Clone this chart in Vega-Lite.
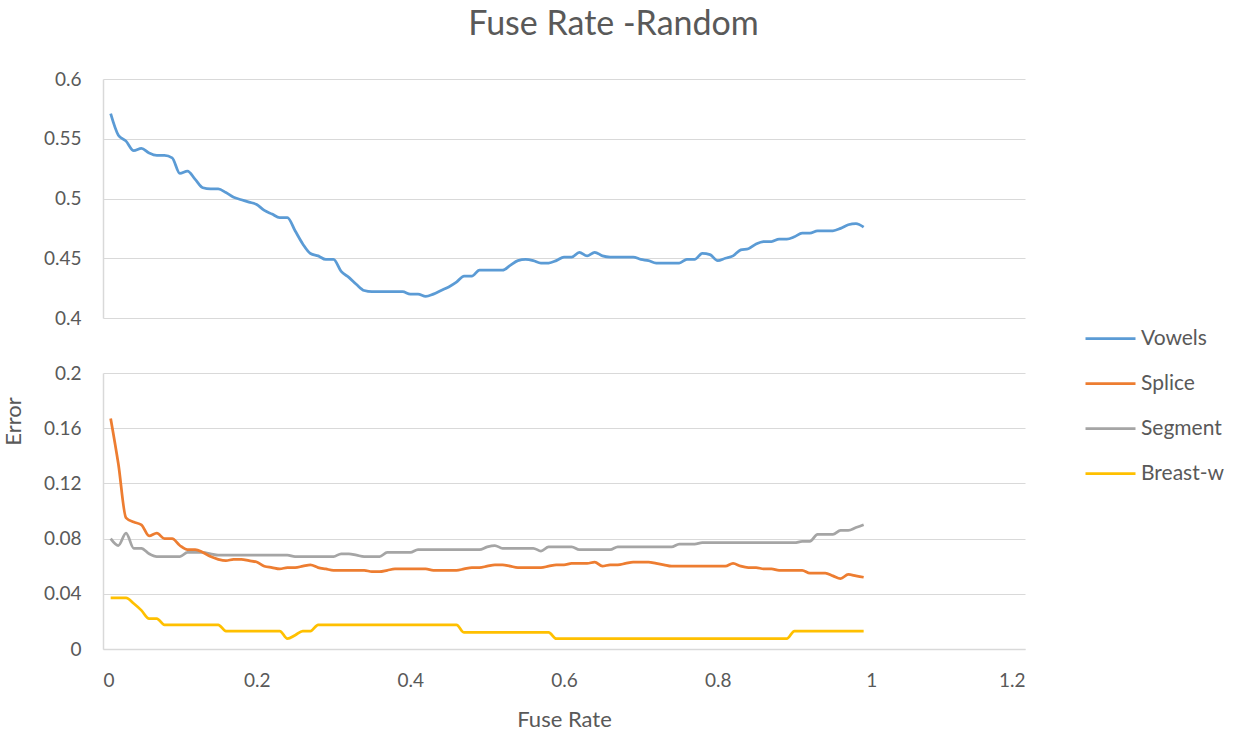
{
  "$schema": "https://vega.github.io/schema/vega-lite/v6.json",
  "background": "white",
  "padding": {"left": 2, "top": 8, "right": 0, "bottom": 0},
  "title": {"text": "Fuse Rate -Random", "font": "Lato", "fontSize": 34, "fontWeight": "normal", "color": "#595959", "anchor": "middle", "offset": 28},
  "config": {
    "view": {"stroke": null},
    "axis": {"labelFont": "Lato", "labelFontSize": 19, "labelColor": "#595959", "titleFont": "Lato", "titleFontSize": 22, "titleFontWeight": "normal", "titleColor": "#595959", "domainColor": "#d9d9d9", "gridColor": "#d9d9d9", "gridWidth": 1.2, "domainWidth": 1.5, "ticks": false},
    "legend": {"labelFont": "Lato", "labelFontSize": 21, "labelColor": "#595959"}
  },
  "datasets": {
    "rates": [
      {"x":0.01,"Vowels":0.571,"Splice":0.167,"Segment":0.080,"Breast-w":0.037},
      {"x":0.02,"Vowels":0.553,"Splice":0.134,"Segment":0.075,"Breast-w":0.037},
      {"x":0.03,"Vowels":0.548,"Splice":0.095,"Segment":0.084,"Breast-w":0.037},
      {"x":0.04,"Vowels":0.540,"Splice":0.092,"Segment":0.073,"Breast-w":0.033},
      {"x":0.05,"Vowels":0.542,"Splice":0.090,"Segment":0.073,"Breast-w":0.028},
      {"x":0.06,"Vowels":0.538,"Splice":0.082,"Segment":0.069,"Breast-w":0.022},
      {"x":0.07,"Vowels":0.536,"Splice":0.084,"Segment":0.067,"Breast-w":0.022},
      {"x":0.08,"Vowels":0.536,"Splice":0.080,"Segment":0.067,"Breast-w":0.0175},
      {"x":0.09,"Vowels":0.534,"Splice":0.080,"Segment":0.067,"Breast-w":0.0175},
      {"x":0.10,"Vowels":0.521,"Splice":0.075,"Segment":0.067,"Breast-w":0.0175},
      {"x":0.11,"Vowels":0.523,"Splice":0.072,"Segment":0.070,"Breast-w":0.0175},
      {"x":0.12,"Vowels":0.516,"Splice":0.072,"Segment":0.070,"Breast-w":0.0175},
      {"x":0.13,"Vowels":0.509,"Splice":0.070,"Segment":0.070,"Breast-w":0.0175},
      {"x":0.14,"Vowels":0.508,"Splice":0.067,"Segment":0.069,"Breast-w":0.0175},
      {"x":0.15,"Vowels":0.508,"Splice":0.065,"Segment":0.068,"Breast-w":0.0175},
      {"x":0.16,"Vowels":0.505,"Splice":0.064,"Segment":0.068,"Breast-w":0.013},
      {"x":0.17,"Vowels":0.501,"Splice":0.065,"Segment":0.068,"Breast-w":0.013},
      {"x":0.18,"Vowels":0.499,"Splice":0.065,"Segment":0.068,"Breast-w":0.013},
      {"x":0.19,"Vowels":0.497,"Splice":0.064,"Segment":0.068,"Breast-w":0.013},
      {"x":0.20,"Vowels":0.495,"Splice":0.063,"Segment":0.068,"Breast-w":0.013},
      {"x":0.21,"Vowels":0.490,"Splice":0.060,"Segment":0.068,"Breast-w":0.013},
      {"x":0.22,"Vowels":0.487,"Splice":0.059,"Segment":0.068,"Breast-w":0.013},
      {"x":0.23,"Vowels":0.484,"Splice":0.058,"Segment":0.068,"Breast-w":0.013},
      {"x":0.24,"Vowels":0.484,"Splice":0.059,"Segment":0.068,"Breast-w":0.0075},
      {"x":0.25,"Vowels":0.473,"Splice":0.059,"Segment":0.067,"Breast-w":0.010},
      {"x":0.26,"Vowels":0.462,"Splice":0.060,"Segment":0.067,"Breast-w":0.013},
      {"x":0.27,"Vowels":0.454,"Splice":0.061,"Segment":0.067,"Breast-w":0.013},
      {"x":0.28,"Vowels":0.452,"Splice":0.059,"Segment":0.067,"Breast-w":0.0175},
      {"x":0.29,"Vowels":0.449,"Splice":0.058,"Segment":0.067,"Breast-w":0.0175},
      {"x":0.30,"Vowels":0.449,"Splice":0.057,"Segment":0.067,"Breast-w":0.0175},
      {"x":0.31,"Vowels":0.439,"Splice":0.057,"Segment":0.069,"Breast-w":0.0175},
      {"x":0.32,"Vowels":0.434,"Splice":0.057,"Segment":0.069,"Breast-w":0.0175},
      {"x":0.33,"Vowels":0.428,"Splice":0.057,"Segment":0.068,"Breast-w":0.0175},
      {"x":0.34,"Vowels":0.423,"Splice":0.057,"Segment":0.067,"Breast-w":0.0175},
      {"x":0.35,"Vowels":0.422,"Splice":0.056,"Segment":0.067,"Breast-w":0.0175},
      {"x":0.36,"Vowels":0.422,"Splice":0.056,"Segment":0.067,"Breast-w":0.0175},
      {"x":0.37,"Vowels":0.422,"Splice":0.057,"Segment":0.070,"Breast-w":0.0175},
      {"x":0.38,"Vowels":0.422,"Splice":0.058,"Segment":0.070,"Breast-w":0.0175},
      {"x":0.39,"Vowels":0.422,"Splice":0.058,"Segment":0.070,"Breast-w":0.0175},
      {"x":0.40,"Vowels":0.420,"Splice":0.058,"Segment":0.070,"Breast-w":0.0175},
      {"x":0.41,"Vowels":0.420,"Splice":0.058,"Segment":0.072,"Breast-w":0.0175},
      {"x":0.42,"Vowels":0.418,"Splice":0.058,"Segment":0.072,"Breast-w":0.0175},
      {"x":0.43,"Vowels":0.420,"Splice":0.057,"Segment":0.072,"Breast-w":0.0175},
      {"x":0.44,"Vowels":0.423,"Splice":0.057,"Segment":0.072,"Breast-w":0.0175},
      {"x":0.45,"Vowels":0.426,"Splice":0.057,"Segment":0.072,"Breast-w":0.0175},
      {"x":0.46,"Vowels":0.430,"Splice":0.057,"Segment":0.072,"Breast-w":0.0175},
      {"x":0.47,"Vowels":0.435,"Splice":0.058,"Segment":0.072,"Breast-w":0.012},
      {"x":0.48,"Vowels":0.435,"Splice":0.059,"Segment":0.072,"Breast-w":0.012},
      {"x":0.49,"Vowels":0.440,"Splice":0.059,"Segment":0.072,"Breast-w":0.012},
      {"x":0.50,"Vowels":0.440,"Splice":0.060,"Segment":0.074,"Breast-w":0.012},
      {"x":0.51,"Vowels":0.440,"Splice":0.061,"Segment":0.075,"Breast-w":0.012},
      {"x":0.52,"Vowels":0.440,"Splice":0.061,"Segment":0.073,"Breast-w":0.012},
      {"x":0.53,"Vowels":0.444,"Splice":0.060,"Segment":0.073,"Breast-w":0.012},
      {"x":0.54,"Vowels":0.448,"Splice":0.059,"Segment":0.073,"Breast-w":0.012},
      {"x":0.55,"Vowels":0.449,"Splice":0.059,"Segment":0.073,"Breast-w":0.012},
      {"x":0.56,"Vowels":0.448,"Splice":0.059,"Segment":0.073,"Breast-w":0.012},
      {"x":0.57,"Vowels":0.446,"Splice":0.059,"Segment":0.071,"Breast-w":0.012},
      {"x":0.58,"Vowels":0.446,"Splice":0.060,"Segment":0.074,"Breast-w":0.012},
      {"x":0.59,"Vowels":0.448,"Splice":0.061,"Segment":0.074,"Breast-w":0.0075},
      {"x":0.60,"Vowels":0.451,"Splice":0.061,"Segment":0.074,"Breast-w":0.0075},
      {"x":0.61,"Vowels":0.451,"Splice":0.062,"Segment":0.074,"Breast-w":0.0075},
      {"x":0.62,"Vowels":0.455,"Splice":0.062,"Segment":0.072,"Breast-w":0.0075},
      {"x":0.63,"Vowels":0.452,"Splice":0.062,"Segment":0.072,"Breast-w":0.0075},
      {"x":0.64,"Vowels":0.455,"Splice":0.063,"Segment":0.072,"Breast-w":0.0075},
      {"x":0.65,"Vowels":0.452,"Splice":0.060,"Segment":0.072,"Breast-w":0.0075},
      {"x":0.66,"Vowels":0.451,"Splice":0.061,"Segment":0.072,"Breast-w":0.0075},
      {"x":0.67,"Vowels":0.451,"Splice":0.061,"Segment":0.074,"Breast-w":0.0075},
      {"x":0.68,"Vowels":0.451,"Splice":0.062,"Segment":0.074,"Breast-w":0.0075},
      {"x":0.69,"Vowels":0.451,"Splice":0.063,"Segment":0.074,"Breast-w":0.0075},
      {"x":0.70,"Vowels":0.449,"Splice":0.063,"Segment":0.074,"Breast-w":0.0075},
      {"x":0.71,"Vowels":0.448,"Splice":0.063,"Segment":0.074,"Breast-w":0.0075},
      {"x":0.72,"Vowels":0.446,"Splice":0.062,"Segment":0.074,"Breast-w":0.0075},
      {"x":0.73,"Vowels":0.446,"Splice":0.061,"Segment":0.074,"Breast-w":0.0075},
      {"x":0.74,"Vowels":0.446,"Splice":0.060,"Segment":0.074,"Breast-w":0.0075},
      {"x":0.75,"Vowels":0.446,"Splice":0.060,"Segment":0.076,"Breast-w":0.0075},
      {"x":0.76,"Vowels":0.449,"Splice":0.060,"Segment":0.076,"Breast-w":0.0075},
      {"x":0.77,"Vowels":0.449,"Splice":0.060,"Segment":0.076,"Breast-w":0.0075},
      {"x":0.78,"Vowels":0.454,"Splice":0.060,"Segment":0.077,"Breast-w":0.0075},
      {"x":0.79,"Vowels":0.453,"Splice":0.060,"Segment":0.077,"Breast-w":0.0075},
      {"x":0.80,"Vowels":0.448,"Splice":0.060,"Segment":0.077,"Breast-w":0.0075},
      {"x":0.81,"Vowels":0.450,"Splice":0.060,"Segment":0.077,"Breast-w":0.0075},
      {"x":0.82,"Vowels":0.452,"Splice":0.062,"Segment":0.077,"Breast-w":0.0075},
      {"x":0.83,"Vowels":0.457,"Splice":0.060,"Segment":0.077,"Breast-w":0.0075},
      {"x":0.84,"Vowels":0.458,"Splice":0.059,"Segment":0.077,"Breast-w":0.0075},
      {"x":0.85,"Vowels":0.462,"Splice":0.059,"Segment":0.077,"Breast-w":0.0075},
      {"x":0.86,"Vowels":0.464,"Splice":0.058,"Segment":0.077,"Breast-w":0.0075},
      {"x":0.87,"Vowels":0.464,"Splice":0.058,"Segment":0.077,"Breast-w":0.0075},
      {"x":0.88,"Vowels":0.466,"Splice":0.057,"Segment":0.077,"Breast-w":0.0075},
      {"x":0.89,"Vowels":0.466,"Splice":0.057,"Segment":0.077,"Breast-w":0.0075},
      {"x":0.90,"Vowels":0.468,"Splice":0.057,"Segment":0.077,"Breast-w":0.013},
      {"x":0.91,"Vowels":0.471,"Splice":0.057,"Segment":0.078,"Breast-w":0.013},
      {"x":0.92,"Vowels":0.471,"Splice":0.055,"Segment":0.078,"Breast-w":0.013},
      {"x":0.93,"Vowels":0.473,"Splice":0.055,"Segment":0.083,"Breast-w":0.013},
      {"x":0.94,"Vowels":0.473,"Splice":0.055,"Segment":0.083,"Breast-w":0.013},
      {"x":0.95,"Vowels":0.473,"Splice":0.053,"Segment":0.083,"Breast-w":0.013},
      {"x":0.96,"Vowels":0.475,"Splice":0.051,"Segment":0.086,"Breast-w":0.013},
      {"x":0.97,"Vowels":0.478,"Splice":0.054,"Segment":0.086,"Breast-w":0.013},
      {"x":0.98,"Vowels":0.479,"Splice":0.053,"Segment":0.088,"Breast-w":0.013},
      {"x":0.99,"Vowels":0.476,"Splice":0.052,"Segment":0.090,"Breast-w":0.013}
    ]
  },
  "spacing": 36,
  "vconcat": [
    {
      "width": 922,
      "height": 239,
      "data": {"name": "rates"},
      "mark": {"type": "line", "strokeWidth": 2.75, "interpolate": "monotone"},
      "encoding": {
        "x": {"field": "x", "type": "quantitative", "scale": {"domain": [0, 1.2]}, "axis": null},
        "y": {"field": "Vowels", "type": "quantitative", "scale": {"domain": [0.4, 0.6], "zero": false},
              "axis": {"values": [0.4, 0.45, 0.5, 0.55, 0.6], "format": "~g", "title": null, "labelPadding": 22}},
        "color": {"datum": "Vowels", "type": "nominal",
                  "scale": {"domain": ["Vowels", "Splice", "Segment", "Breast-w"], "range": ["#5B9BD5", "#ED7D31", "#A5A5A5", "#FFC000"]},
                  "legend": {"title": null, "orient": "none", "legendX": 981, "legendY": 233, "symbolType": "stroke", "symbolSize": 2500, "symbolStrokeWidth": 2.75, "rowPadding": 8, "labelOffset": 4}}
      }
    },
    {
      "width": 922,
      "height": 276,
      "data": {"name": "rates"},
      "transform": [{"fold": ["Breast-w", "Segment", "Splice"], "as": ["series", "value"]}],
      "mark": {"type": "line", "strokeWidth": 2.75, "interpolate": "monotone"},
      "encoding": {
        "x": {"field": "x", "type": "quantitative", "scale": {"domain": [0, 1.2]},
              "axis": {"values": [0, 0.2, 0.4, 0.6, 0.8, 1, 1.2], "format": "~g", "grid": false, "title": "Fuse Rate", "labelPadding": 22, "titlePadding": 19}},
        "y": {"field": "value", "type": "quantitative", "scale": {"domain": [0, 0.2]},
              "axis": {"values": [0, 0.04, 0.08, 0.12, 0.16, 0.2], "format": "~g", "title": "Error", "labelPadding": 22, "titleX": -78, "titleY": 48}},
        "color": {"field": "series", "type": "nominal",
                  "scale": {"domain": ["Vowels", "Splice", "Segment", "Breast-w"], "range": ["#5B9BD5", "#ED7D31", "#A5A5A5", "#FFC000"]},
                  "legend": {"title": null, "orient": "none", "legendX": 981, "legendY": 233, "symbolType": "stroke", "symbolSize": 2500, "symbolStrokeWidth": 2.75, "rowPadding": 8, "labelOffset": 4}}
      }
    }
  ]
}
